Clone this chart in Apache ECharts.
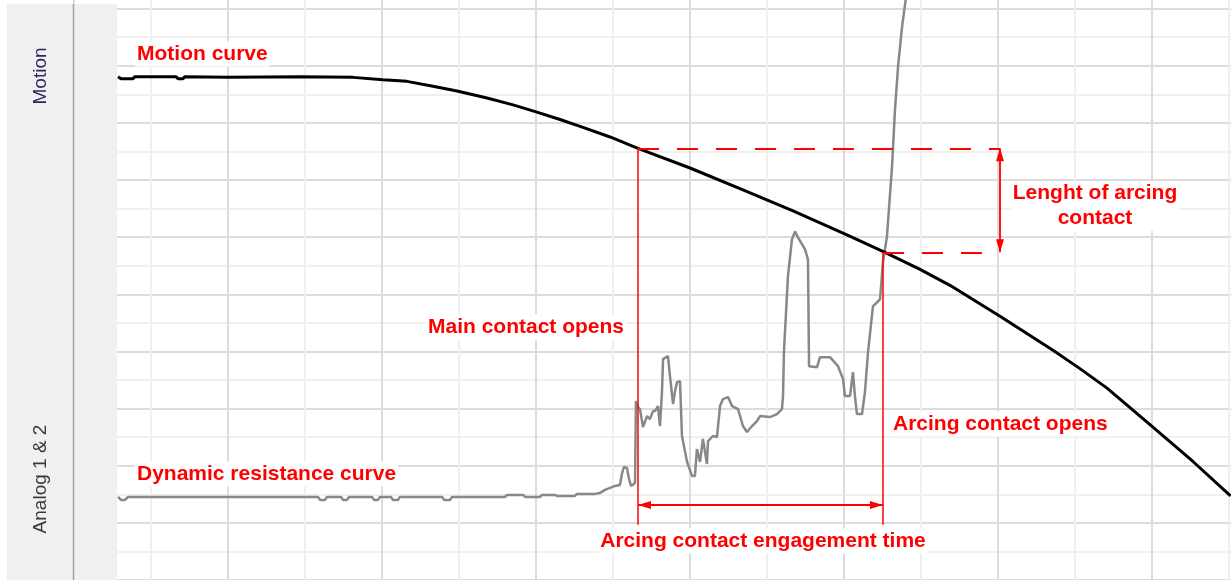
<!DOCTYPE html>
<html>
<head>
<meta charset="utf-8">
<script src="https://cdn.jsdelivr.net/npm/echarts@6/dist/echarts.min.js"></script>
<style>
html,body{margin:0;padding:0;background:#fff;}
#chart{width:1231px;height:580px;}
</style>
</head>
<body>
<div id="chart"></div>
<script>
// ---- data (x: time units, y: scaled channel units 0-100) ----
const motionCurve = [
  [2.86,88.08],[3.05,87.73],[3.83,87.73],[3.96,88.08],[6.62,88.08],[6.75,87.73],[7.08,87.73],[7.21,88.08],
  [10.0,88.0],[14.68,88.08],[18.12,87.96],[20.06,87.55],[21.62,87.26],[23.31,86.40],[24.87,85.56],
  [26.82,84.36],[28.51,83.14],[30.06,81.88],[31.56,80.59],[33.05,79.22],[34.81,77.53],[36.62,75.55],
  [40.0,72.10],[43.44,68.29],[46.69,64.59],[50.19,60.39],[52.66,57.34],[54.94,54.37],[56.88,51.57],
  [60.13,46.16],[63.57,40.22],[65.32,36.99],[67.08,33.58],[70.06,26.77],[72.66,20.74],[75.10,14.72]
];
const resistanceCurve = [
  [2.86,14.54],[3.05,14.02],[3.31,14.02],[3.51,14.54],
  [15.84,14.54],[15.97,14.02],[16.30,14.02],[16.43,14.54],
  [17.34,14.54],[17.47,14.02],[17.73,14.02],[17.86,14.54],
  [19.35,14.54],[19.48,14.02],[19.74,14.02],[19.87,14.54],
  [20.58,14.54],[20.71,14.02],[21.04,14.02],[21.17,14.54],
  [23.90,14.54],[24.03,14.02],[24.42,14.02],[24.55,14.54],
  [27.99,14.54],[28.12,14.89],[29.16,14.89],[29.29,14.54],
  [30.26,14.54],[30.39,14.89],[31.23,14.89],[31.36,14.72],
  [32.53,14.72],[32.66,15.07],[33.83,15.07],[34.16,15.24],
  [34.48,15.76],[34.81,16.11],[35.13,16.46],[35.45,16.64],
  [35.58,18.56],[35.71,19.78],[35.91,19.61],[36.04,17.69],
  [36.17,16.46],[36.43,16.99],[36.49,31.31],[36.62,30.26],
  [36.75,29.91],[36.95,26.77],[37.21,28.69],[37.40,28.17],
  [37.60,29.56],[37.73,29.56],[37.92,30.44],[38.05,26.94],
  [38.18,32.88],[38.25,38.65],[38.57,39.17],[38.70,35.68],
  [38.90,30.79],[39.03,33.06],[39.16,34.63],[39.35,34.80],
  [39.48,25.20],[39.81,20.66],[40.13,18.21],[40.32,18.21],
  [40.45,22.93],[40.65,20.66],[40.84,24.67],[41.10,20.31],
  [41.17,24.32],[41.49,25.20],[41.75,25.02],[41.95,30.44],
  [42.14,31.66],[42.47,32.01],[42.73,30.44],[43.12,29.91],
  [43.44,26.94],[43.70,25.90],[44.03,26.94],[44.35,27.82],
  [44.55,28.69],[45.19,28.52],[45.65,29.04],[45.97,29.91],
  [46.04,32.18],[46.10,39.87],[46.36,53.14],[46.62,59.61],
  [46.82,61.00],[47.01,59.96],[47.47,57.86],[47.66,56.11],
  [47.73,37.42],[48.25,37.25],[48.44,39.00],[49.09,39.00],
  [49.61,37.42],[49.94,35.15],[50.06,32.18],[50.39,32.18],
  [50.58,36.38],[50.71,32.18],[50.84,29.04],[51.17,29.04],
  [51.36,32.88],[51.56,39.87],[51.88,47.90],[52.34,49.13],
  [52.53,55.59],[52.79,60.13],[53.12,72.36],[53.31,82.31],
  [53.51,89.83],[53.77,96.81],[53.96,100.66],[54.09,103.28]
];
// annotation anchors (x time, y value)
const mainContactOpen = [36.62, 75.55];
const arcingContactOpen = [52.53, 57.34];
const engagementArrowY = 13.14;
const markerBottomY = 9.65;
const lengthArrowX = 60.13;
const labels = {
  motion: 'Motion curve',
  resistance: 'Dynamic resistance curve',
  mainOpen: 'Main contact opens',
  arcOpen: 'Arcing contact opens',
  length: 'Lenght of arcing\ncontact',
  engage: 'Arcing contact engagement time',
  panelTop: 'Motion',
  panelBottom: 'Analog 1 & 2'
};

const RED = '#ff0000';
const arrowTip = 'path://M0,0L4,13L-4,13ZM0,-13L0,-13';
const chart = echarts.init(document.getElementById('chart'), null, {renderer: 'canvas'});

const redFont = 'bold 21px "Liberation Sans", Arial, sans-serif';
function redText(text, x, y, align) {
  return {
    type: 'text', x: x, y: y, z: 200, silent: true,
    style: {
      text: text, fill: RED, font: redFont, align: align || 'left', verticalAlign: 'middle',
      backgroundColor: '#ffffff', padding: [0, 2], lineHeight: 25
    }
  };
}

chart.setOption({
  animation: false,
  backgroundColor: '#ffffff',
  grid: {left: 74, top: 0, width: 1157, height: 581.25, containLabel: false, show: false},
  xAxis: {
    type: 'value', min: 0, max: 75.13, interval: 5,
    axisLine: {show: false}, axisTick: {show: false}, axisLabel: {show: false},
    splitLine: {show: true, showMaxLine: false, lineStyle: {color: ['#dcdcdc', '#f0f0f0'], width: 2}}
  },
  yAxis: {
    type: 'value', min: 0, max: 101.5, interval: 5,
    axisLine: {show: false}, axisTick: {show: false}, axisLabel: {show: false},
    splitLine: {show: true, showMaxLine: false, lineStyle: {color: ['#dcdcdc', '#f0f0f0'], width: 2}}
  },
  series: [
    {
      type: 'line', name: 'Dynamic resistance', data: resistanceCurve, showSymbol: false, symbol: 'none',
      lineStyle: {color: '#888888', width: 2.5}, z: 3, silent: true, clip: true
    },
    {
      type: 'line', name: 'Motion', data: motionCurve, showSymbol: false, symbol: 'none',
      lineStyle: {color: '#000000', width: 3}, z: 4, silent: true, clip: true
    },
    {
      type: 'line', name: 'annotations', data: [], z: 5, silent: true,
      markLine: {
        silent: true, animation: false, label: {show: false}, symbol: 'none',
        emphasis: {disabled: true},
        data: [
          // vertical markers
          [{coord: mainContactOpen, lineStyle: {color: RED, width: 1.5, type: 'solid'}},
           {coord: [mainContactOpen[0], markerBottomY]}],
          [{coord: arcingContactOpen, lineStyle: {color: RED, width: 1.5, type: 'solid'}},
           {coord: [arcingContactOpen[0], markerBottomY]}],
          // dashed horizontal levels
          [{coord: mainContactOpen, lineStyle: {color: RED, width: 2, type: [21, 18]}},
           {coord: [lengthArrowX, mainContactOpen[1]]}],
          [{coord: arcingContactOpen, lineStyle: {color: RED, width: 2, type: [21, 18]}},
           {coord: [lengthArrowX, arcingContactOpen[1]]}],
          // engagement time arrow
          [{coord: [mainContactOpen[0], engagementArrowY], symbol: arrowTip, symbolSize: [8, 26],
            lineStyle: {color: RED, width: 1.8, type: 'solid'}, itemStyle: {color: RED}},
           {coord: [arcingContactOpen[0], engagementArrowY], symbol: arrowTip, symbolSize: [8, 26]}],
          // length arrow
          [{coord: [lengthArrowX, mainContactOpen[1]], symbol: arrowTip, symbolSize: [8, 26],
            lineStyle: {color: RED, width: 1.8, type: 'solid'}, itemStyle: {color: RED}},
           {coord: [lengthArrowX, arcingContactOpen[1]], symbol: arrowTip, symbolSize: [8, 26]}]
        ]
      }
    }
  ],
  graphic: [
    {type: 'rect', z: 100, silent: true, shape: {x: 7, y: 4, width: 66, height: 576}, style: {fill: '#f0f0f0'}},
    {type: 'rect', z: 100, silent: true, shape: {x: 74, y: 4, width: 43, height: 576}, style: {fill: '#f0f0f0'}},
    {type: 'line', z: 101, silent: true, shape: {x1: 73.5, y1: 4, x2: 73.5, y2: 580}, style: {stroke: '#a0a0a0', lineWidth: 1.5}},
    {type: 'text', z: 102, silent: true, x: 40.5, y: 76, rotation: Math.PI / 2,
      style: {text: labels.panelTop, fill: '#2b2660', font: '19px "Liberation Sans", Arial, sans-serif', align: 'center', verticalAlign: 'middle'}},
    {type: 'text', z: 102, silent: true, x: 41, y: 479, rotation: Math.PI / 2,
      style: {text: labels.panelBottom, fill: '#3a3a3a', font: '19px "Liberation Sans", Arial, sans-serif', align: 'center', verticalAlign: 'middle'}},
    redText(labels.motion, 135, 54),
    redText(labels.resistance, 135, 474),
    redText(labels.mainOpen, 626, 327, 'right'),
    redText(labels.arcOpen, 891, 424),
    redText(labels.length, 1095, 206, 'center'),
    redText(labels.engage, 763, 541, 'center')
  ]
});
</script>
</body>
</html>
